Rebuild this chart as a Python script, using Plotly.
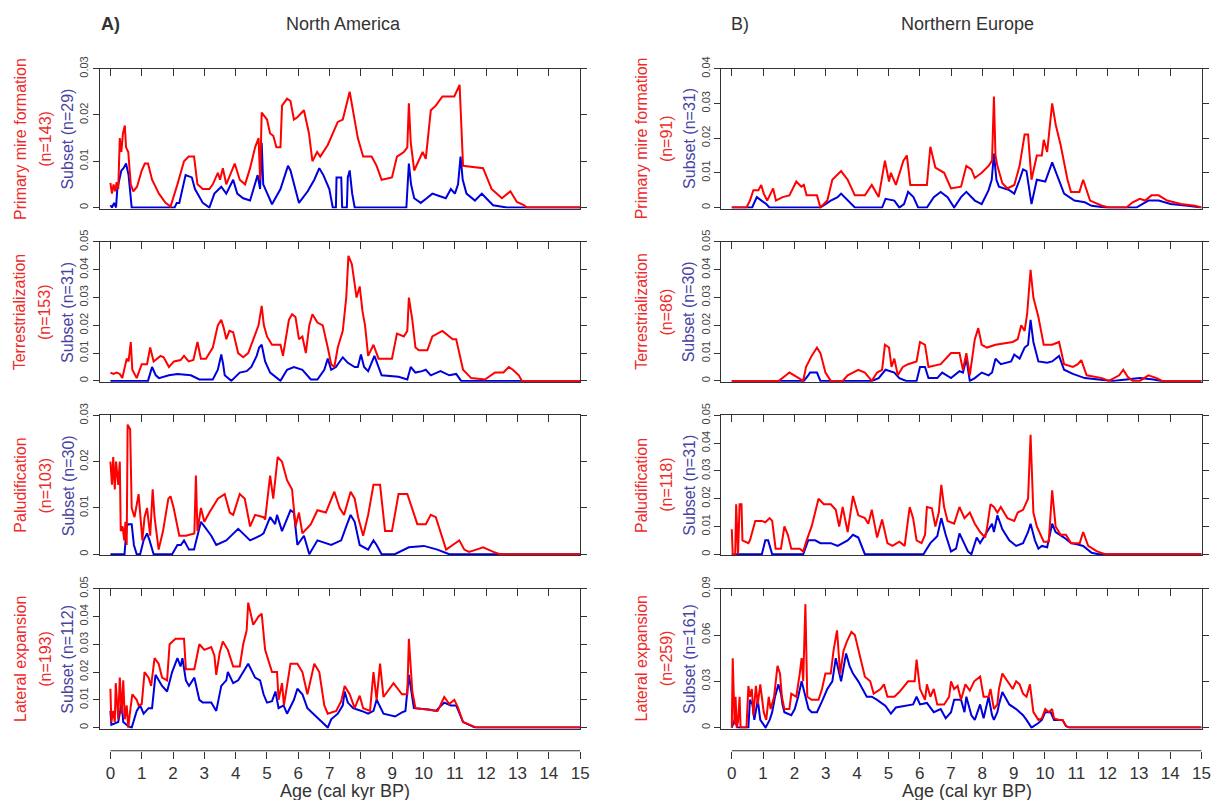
import plotly.graph_objects as go

# ---------------- data (age in cal kyr BP, probability density) ----------------
na_pmf_all = [(0,0.0053),(0.05,0.003),(0.1,0.005),(0.15,0.0035),(0.2,0.0055),(0.25,0.004),(0.3,0.015),(0.35,0.012),(0.4,0.016),(0.46,0.0177),(0.5,0.013),(0.57,0.012),(0.65,0.005),(0.73,0.0035),(0.85,0.0045),(1.0,0.008),(1.1,0.0095),(1.2,0.0095),(1.33,0.006),(1.55,0.003),(1.76,0.001),(1.92,0.0002),(2.14,0.005),(2.35,0.01),(2.5,0.011),(2.67,0.011),(2.78,0.005),(2.95,0.004),(3.16,0.004),(3.27,0.005),(3.43,0.0075),(3.5,0.006),(3.59,0.0085),(3.7,0.005),(3.97,0.0095),(4.13,0.006),(4.3,0.005),(4.46,0.0085),(4.62,0.013),(4.73,0.015),(4.78,0.006),(4.83,0.0205),(5.0,0.019),(5.1,0.016),(5.2,0.0155),(5.3,0.013),(5.43,0.013),(5.48,0.022),(5.64,0.0235),(5.75,0.023),(5.86,0.019),(5.97,0.0195),(6.18,0.021),(6.34,0.016),(6.45,0.01),(6.6,0.012),(6.7,0.011),(6.94,0.0135),(7.26,0.0185),(7.42,0.019),(7.64,0.025),(7.8,0.019),(7.9,0.015),(8.07,0.011),(8.34,0.011),(8.5,0.009),(8.66,0.006),(8.99,0.0065),(9.15,0.011),(9.37,0.012),(9.48,0.013),(9.53,0.0225),(9.59,0.014),(9.7,0.008),(9.97,0.012),(10.07,0.0105),(10.23,0.021),(10.39,0.022),(10.6,0.024),(10.98,0.024),(11.15,0.0265),(11.26,0.009),(11.9,0.0085),(12.17,0.004),(12.5,0.002),(12.77,0.0035),(12.98,0.0012),(13.2,0.0005),(13.3,0),(15,0)]
na_pmf_sub = [(0,0.0005),(0.05,0),(0.12,0.001),(0.18,0),(0.22,0.004),(0.28,0.006),(0.35,0.008),(0.42,0.0085),(0.5,0.0095),(0.58,0.007),(0.62,0.004),(0.68,0),(2.05,0),(2.12,0.001),(2.2,0.001),(2.4,0.007),(2.6,0.0065),(2.7,0.004),(2.95,0.001),(3.16,0),(3.32,0.003),(3.54,0.0045),(3.7,0.003),(3.92,0.006),(4.05,0.003),(4.24,0.002),(4.46,0.0015),(4.62,0.005),(4.7,0.007),(4.78,0.004),(4.83,0.014),(4.88,0.005),(4.94,0.004),(5.16,0.0007),(5.43,0.004),(5.55,0.0065),(5.67,0.009),(5.75,0.008),(5.86,0.005),(6.02,0.001),(6.3,0.0035),(6.51,0.006),(6.67,0.0085),(6.8,0.007),(6.99,0.004),(7.1,0),(7.2,0),(7.22,0.0065),(7.37,0.0065),(7.4,0),(7.55,0),(7.58,0.0065),(7.64,0.008),(7.72,0.003),(7.8,0),(9.45,0),(9.53,0.0095),(9.6,0.005),(9.7,0.002),(9.91,0.001),(10.1,0.002),(10.28,0.003),(10.5,0.0025),(10.71,0.002),(10.87,0.004),(11.0,0.003),(11.1,0.005),(11.18,0.011),(11.25,0.006),(11.37,0.003),(11.64,0.0015),(11.86,0.003),(12.0,0.002),(12.22,0.0005),(12.66,0),(15,0)]

na_ter_all = [(0,0.003),(0.1,0.0025),(0.2,0.003),(0.3,0.0025),(0.38,0.001),(0.45,0.004),(0.52,0.008),(0.58,0.007),(0.65,0.014),(0.7,0.004),(0.84,0.001),(1.0,0.006),(1.17,0.006),(1.27,0.012),(1.38,0.007),(1.6,0.009),(1.7,0.0085),(1.87,0.005),(2.03,0.007),(2.24,0.0075),(2.35,0.009),(2.5,0.007),(2.65,0.0075),(2.78,0.014),(2.89,0.008),(3.05,0.008),(3.27,0.012),(3.43,0.02),(3.54,0.022),(3.62,0.019),(3.7,0.015),(3.8,0.018),(3.92,0.0175),(4.08,0.01),(4.24,0.0085),(4.4,0.01),(4.56,0.015),(4.73,0.02),(4.83,0.027),(4.9,0.02),(5.0,0.016),(5.16,0.013),(5.43,0.013),(5.51,0.009),(5.7,0.022),(5.8,0.024),(5.91,0.023),(6.02,0.015),(6.13,0.016),(6.24,0.01),(6.35,0.02),(6.45,0.024),(6.61,0.021),(6.78,0.02),(6.94,0.012),(7.05,0.006),(7.15,0.005),(7.26,0.012),(7.42,0.018),(7.53,0.03),(7.6,0.045),(7.71,0.042),(7.86,0.03),(7.96,0.034),(8.05,0.025),(8.13,0.02),(8.23,0.009),(8.4,0.013),(8.56,0.008),(8.99,0.008),(9.15,0.017),(9.37,0.016),(9.48,0.018),(9.53,0.03),(9.64,0.022),(9.74,0.012),(9.85,0.011),(10.12,0.011),(10.28,0.016),(10.6,0.018),(10.93,0.015),(11.04,0.015),(11.26,0.004),(11.52,0.001),(11.96,0.0005),(12.28,0.003),(12.55,0.003),(12.72,0.005),(12.85,0.004),(13.04,0.002),(13.14,0),(15,0)]
na_ter_sub = [(0,0),(1.2,0),(1.33,0.005),(1.45,0.002),(1.55,0.001),(1.87,0.002),(2.14,0.0025),(2.57,0.002),(2.84,0.0005),(3.27,0.0005),(3.43,0.004),(3.54,0.0095),(3.6,0.006),(3.65,0.002),(3.86,0),(4.13,0.003),(4.35,0.0035),(4.5,0.005),(4.67,0.009),(4.75,0.012),(4.83,0.013),(4.94,0.007),(5.1,0.003),(5.32,0.001),(5.43,0),(5.64,0.004),(5.86,0.005),(6.13,0.004),(6.4,0.0005),(6.61,0.0005),(6.83,0.004),(6.94,0.008),(7.05,0.004),(7.2,0.005),(7.42,0.0085),(7.58,0.0065),(7.8,0.005),(7.9,0.005),(8.0,0.0095),(8.1,0.005),(8.23,0.0035),(8.43,0.009),(8.56,0.005),(8.66,0.002),(9.2,0.0015),(9.48,0.0005),(9.59,0.005),(9.74,0.003),(9.95,0.0035),(10.07,0.004),(10.23,0.002),(10.54,0.0035),(10.82,0.002),(11.04,0.0025),(11.2,0),(15,0)]

na_pal_all = [(0,0.02),(0.05,0.015),(0.09,0.021),(0.14,0.014),(0.18,0.02),(0.25,0.015),(0.3,0.02),(0.33,0.005),(0.39,0.006),(0.44,0.003),(0.48,0.007),(0.52,0.002),(0.55,0.028),(0.63,0.027),(0.68,0.01),(0.77,0.008),(0.9,0.013),(1.02,0.003),(1.09,0.008),(1.17,0.01),(1.27,0.004),(1.35,0.014),(1.41,0.008),(1.54,0.001),(1.68,0.005),(1.85,0.012),(1.92,0.0125),(2.02,0.01),(2.14,0.006),(2.2,0.004),(2.41,0.004),(2.68,0.0045),(2.73,0.017),(2.78,0.005),(2.89,0.01),(3.0,0.007),(3.16,0.009),(3.43,0.012),(3.65,0.013),(3.81,0.009),(3.92,0.0085),(4.13,0.013),(4.29,0.012),(4.46,0.006),(4.62,0.0085),(4.89,0.008),(4.94,0.0075),(5.1,0.017),(5.2,0.012),(5.34,0.021),(5.48,0.02),(5.64,0.016),(5.8,0.014),(5.91,0.006),(6.02,0.009),(6.13,0.0045),(6.4,0.0065),(6.61,0.0095),(6.88,0.009),(7.15,0.0135),(7.32,0.01),(7.46,0.0085),(7.67,0.0135),(7.8,0.012),(7.91,0.008),(8.07,0.004),(8.23,0.0085),(8.4,0.015),(8.61,0.015),(8.77,0.005),(8.99,0.005),(9.2,0.013),(9.48,0.013),(9.64,0.0095),(9.8,0.0065),(10.07,0.0065),(10.23,0.0085),(10.39,0.008),(10.72,0.001),(10.93,0.002),(11.14,0.003),(11.3,0.001),(11.45,0.0005),(11.68,0.001),(11.9,0.0015),(12.23,0.0005),(12.44,0),(15,0)]
na_pal_sub = [(0,0),(0.45,0),(0.52,0.006),(0.57,0.0065),(0.68,0.0065),(0.75,0.002),(0.84,0),(0.95,0),(1.06,0.003),(1.17,0.0045),(1.25,0.003),(1.38,0),(1.97,0),(2.14,0.002),(2.25,0.002),(2.35,0.003),(2.51,0.001),(2.67,0.001),(2.78,0.004),(2.89,0.007),(3.0,0.006),(3.22,0.004),(3.38,0.002),(3.7,0.003),(4.08,0.0055),(4.29,0.004),(4.46,0.003),(4.78,0.004),(4.89,0.0045),(5.1,0.008),(5.26,0.0065),(5.32,0.0085),(5.48,0.005),(5.75,0.0095),(5.86,0.009),(5.97,0.002),(6.08,0.003),(6.18,0.004),(6.35,0),(6.61,0.003),(7.05,0.002),(7.37,0.003),(7.53,0.006),(7.67,0.0085),(7.8,0.007),(7.96,0.002),(8.23,0.001),(8.4,0.003),(8.5,0.002),(8.66,0),(9.08,0),(9.53,0.0015),(10.01,0.0018),(10.44,0.001),(10.82,0),(15,0)]

na_lat_all = [(0,0.014),(0.03,0.002),(0.09,0.006),(0.14,0.002),(0.17,0.016),(0.25,0.003),(0.3,0.018),(0.36,0.005),(0.41,0.017),(0.46,0.003),(0.52,0.008),(0.57,0),(0.62,0.005),(0.7,0.012),(0.84,0.01),(0.9,0.008),(1.0,0.0085),(1.09,0.02),(1.22,0.018),(1.3,0.015),(1.41,0.025),(1.54,0.023),(1.65,0.018),(1.81,0.017),(1.89,0.03),(2.08,0.032),(2.35,0.032),(2.41,0.021),(2.68,0.021),(2.84,0.03),(3.0,0.028),(3.22,0.029),(3.32,0.026),(3.38,0.019),(3.49,0.027),(3.59,0.031),(3.75,0.028),(3.92,0.022),(4.13,0.022),(4.24,0.03),(4.35,0.035),(4.4,0.045),(4.56,0.037),(4.73,0.04),(4.83,0.041),(4.94,0.028),(5.16,0.02),(5.32,0.02),(5.37,0.01),(5.48,0.016),(5.54,0.008),(5.62,0.014),(5.75,0.023),(5.97,0.023),(6.13,0.02),(6.29,0.012),(6.51,0.023),(6.67,0.02),(6.83,0.008),(6.94,0.005),(7.21,0.006),(7.37,0.0095),(7.48,0.015),(7.64,0.012),(7.8,0.007),(7.96,0.0115),(8.07,0.007),(8.29,0.006),(8.4,0.02),(8.5,0.01),(8.61,0.023),(8.72,0.011),(8.93,0.014),(9.04,0.016),(9.31,0.012),(9.48,0.012),(9.53,0.032),(9.64,0.013),(9.74,0.007),(10.18,0.0065),(10.45,0.006),(10.66,0.011),(10.82,0.0085),(10.98,0.01),(11.09,0.0075),(11.26,0.002),(11.58,0.0005),(11.69,0),(15,0)]
na_lat_sub = [(0,0.006),(0.03,0.001),(0.25,0.002),(0.36,0.009),(0.41,0.002),(0.57,0.0005),(0.68,0),(0.84,0.006),(0.95,0.008),(1.06,0.005),(1.22,0.007),(1.33,0.007),(1.44,0.019),(1.65,0.015),(1.81,0.013),(1.97,0.02),(2.14,0.025),(2.24,0.022),(2.3,0.025),(2.41,0.017),(2.51,0.015),(2.68,0.018),(2.84,0.01),(2.95,0.009),(3.22,0.009),(3.38,0.006),(3.54,0.015),(3.7,0.017),(3.75,0.02),(3.92,0.016),(4.08,0.017),(4.35,0.022),(4.4,0.023),(4.62,0.018),(4.78,0.017),(4.89,0.012),(5.0,0.009),(5.16,0.0095),(5.27,0.013),(5.37,0.007),(5.53,0.008),(5.64,0.005),(5.86,0.01),(5.97,0.014),(6.13,0.012),(6.29,0.007),(6.56,0.004),(6.83,0.001),(6.94,0),(7.05,0.003),(7.26,0.005),(7.42,0.008),(7.48,0.013),(7.58,0.009),(7.75,0.007),(8.02,0.006),(8.23,0.005),(8.4,0.006),(8.5,0.01),(8.72,0.005),(9.09,0.004),(9.31,0.0055),(9.42,0.006),(9.53,0.019),(9.69,0.007),(10.18,0.0065),(10.39,0.006),(10.66,0.009),(10.87,0.008),(11.04,0.008),(11.26,0.002),(11.64,0),(15,0)]

ne_pmf_all = [(0,0),(0.47,0),(0.58,0.002),(0.69,0.005),(0.85,0.005),(0.94,0.0065),(1.02,0.004),(1.13,0.002),(1.32,0.0055),(1.41,0.002),(1.62,0.003),(1.84,0.0035),(2.06,0.0075),(2.22,0.006),(2.3,0.0065),(2.39,0.0035),(2.72,0.0035),(2.83,0),(3.05,0.002),(3.21,0.008),(3.49,0.0105),(3.7,0.008),(3.93,0.0035),(4.25,0.0035),(4.47,0.0065),(4.69,0.003),(4.89,0.0135),(5.02,0.0075),(5.08,0.01),(5.24,0.0065),(5.48,0.0135),(5.59,0.015),(5.7,0.0065),(6.23,0.0065),(6.34,0.0175),(6.5,0.0115),(6.78,0.01),(7.0,0.0055),(7.32,0.006),(7.49,0.012),(7.65,0.011),(7.76,0.0085),(7.98,0.01),(8.2,0.012),(8.31,0.0135),(8.37,0.032),(8.42,0.015),(8.48,0.012),(8.64,0.007),(8.8,0.0055),(9.02,0.0065),(9.19,0.012),(9.35,0.021),(9.46,0.021),(9.57,0.008),(9.74,0.015),(9.9,0.015),(9.96,0.0195),(10.07,0.016),(10.18,0.025),(10.23,0.03),(10.34,0.024),(10.5,0.018),(10.72,0.008),(10.83,0.0045),(11.1,0.0045),(11.22,0.008),(11.44,0.002),(11.82,0.0005),(12.04,0),(12.6,0),(12.8,0.0015),(13.03,0.0025),(13.2,0.002),(13.4,0.0035),(13.63,0.0035),(13.9,0.002),(14.34,0.001),(14.78,0.0005),(15,0)]
ne_pmf_sub = [(0,0),(0.65,0),(0.8,0.003),(1.1,0.001),(1.2,0),(2.83,0),(3.16,0.002),(3.38,0.003),(3.49,0.004),(3.7,0.002),(3.93,0),(4.8,0),(4.91,0.0025),(5.19,0.002),(5.35,0),(5.5,0.001),(5.63,0.0045),(5.8,0.003),(5.95,0),(6.23,0),(6.45,0.003),(6.67,0.0045),(6.89,0.003),(7.1,0),(7.32,0.003),(7.49,0.0045),(7.76,0.002),(7.98,0.001),(8.2,0.005),(8.3,0.008),(8.37,0.0155),(8.45,0.008),(8.53,0.006),(8.86,0.005),(9.02,0.004),(9.19,0.008),(9.3,0.011),(9.41,0.0105),(9.57,0.001),(9.74,0.008),(10.01,0.0075),(10.23,0.013),(10.39,0.009),(10.61,0.004),(10.94,0.002),(11.27,0.0015),(11.49,0.0005),(11.93,0),(12.92,0),(13.3,0.002),(13.63,0.002),(14.01,0.001),(14.56,0.0005),(15,0)]

ne_ter_all = [(0,0),(1.5,0),(1.73,0.002),(1.84,0.003),(2.06,0.0015),(2.28,0),(2.37,0.005),(2.55,0.009),(2.72,0.012),(2.83,0.01),(2.99,0.003),(3.16,0),(3.54,0),(3.7,0.002),(4.04,0.004),(4.25,0.003),(4.47,0),(4.64,0.003),(4.8,0.004),(4.89,0.013),(5.02,0.012),(5.1,0.005),(5.19,0.008),(5.3,0.002),(5.46,0.005),(5.63,0.006),(5.9,0.007),(6.01,0.014),(6.17,0.013),(6.28,0.005),(6.67,0.006),(7.0,0.01),(7.27,0.01),(7.38,0.004),(7.49,0.01),(7.6,0.002),(7.76,0.015),(7.87,0.019),(7.98,0.013),(8.15,0.012),(8.42,0.013),(8.97,0.014),(9.13,0.015),(9.24,0.02),(9.35,0.018),(9.43,0.024),(9.54,0.04),(9.63,0.03),(9.79,0.023),(9.96,0.013),(10.23,0.013),(10.45,0.014),(10.61,0.006),(10.89,0.005),(11.05,0.006),(11.16,0.0075),(11.33,0.002),(11.82,0.001),(12.04,0),(12.2,0.001),(12.37,0.002),(12.5,0.004),(12.64,0.0015),(12.8,0),(13.03,0),(13.3,0.002),(13.57,0.001),(13.74,0),(15,0)]
ne_ter_sub = [(0,0),(2.3,0),(2.44,0.002),(2.5,0.003),(2.72,0.003),(2.83,0),(4.47,0),(4.69,0.001),(4.91,0.004),(5.19,0.003),(5.35,0.001),(5.57,0),(5.9,0),(6.01,0.005),(6.17,0.005),(6.28,0.001),(6.56,0.001),(6.72,0.003),(7.0,0.001),(7.27,0.0035),(7.38,0.003),(7.49,0.008),(7.6,0),(7.76,0.001),(7.98,0.003),(8.2,0.002),(8.31,0.003),(8.42,0.008),(8.59,0.006),(8.92,0.007),(9.02,0.0095),(9.19,0.008),(9.35,0.012),(9.46,0.013),(9.54,0.022),(9.63,0.014),(9.79,0.007),(10.07,0.0065),(10.23,0.007),(10.45,0.009),(10.61,0.004),(10.89,0.0025),(11.27,0.001),(11.71,0.0005),(12.15,0),(12.6,0.0005),(13.03,0.001),(13.47,0.0005),(13.69,0),(15,0)]

ne_pal_all = [(0,0.009),(0.03,0),(0.11,0),(0.14,0.018),(0.2,0),(0.25,0.018),(0.31,0.018),(0.34,0.005),(0.53,0.004),(0.58,0.005),(0.75,0.012),(0.96,0.012),(1.07,0.0115),(1.21,0.013),(1.29,0.012),(1.4,0.002),(1.57,0.002),(1.68,0.01),(1.79,0.007),(1.9,0.002),(2.17,0.002),(2.28,0.001),(2.39,0.005),(2.55,0.01),(2.77,0.02),(2.94,0.018),(3.16,0.018),(3.32,0.016),(3.43,0.01),(3.54,0.017),(3.7,0.008),(3.87,0.021),(4.04,0.014),(4.25,0.013),(4.36,0.011),(4.47,0.016),(4.64,0.006),(4.8,0.0125),(4.97,0.004),(5.13,0.003),(5.35,0.0045),(5.52,0.003),(5.68,0.017),(5.79,0.013),(5.9,0.005),(6.06,0.004),(6.17,0.007),(6.23,0.017),(6.39,0.0165),(6.5,0.01),(6.61,0.015),(6.69,0.025),(6.78,0.017),(6.89,0.012),(7.1,0.011),(7.27,0.017),(7.43,0.013),(7.6,0.015),(7.76,0.011),(7.93,0.008),(8.09,0.006),(8.15,0.0095),(8.26,0.018),(8.37,0.017),(8.48,0.015),(8.59,0.017),(8.8,0.013),(9.02,0.012),(9.13,0.015),(9.3,0.016),(9.46,0.02),(9.54,0.043),(9.63,0.015),(9.74,0.01),(9.96,0.0045),(10.12,0.0045),(10.23,0.023),(10.34,0.01),(10.5,0.007),(10.67,0.007),(10.83,0.004),(11.11,0.004),(11.22,0.008),(11.38,0.003),(11.66,0.001),(11.93,0),(15,0)]
ne_pal_sub = [(0,0),(0.96,0),(1.07,0.005),(1.16,0.005),(1.29,0),(2.28,0),(2.44,0.005),(2.66,0.005),(2.83,0.004),(3.16,0.004),(3.38,0.003),(3.7,0.005),(3.87,0.007),(4.04,0.006),(4.25,0),(6.12,0),(6.34,0.004),(6.56,0.0065),(6.69,0.013),(6.83,0.007),(7.0,0.001),(7.16,0.002),(7.27,0.0075),(7.38,0.005),(7.54,0.001),(7.65,0),(7.82,0.006),(7.93,0.004),(8.15,0.008),(8.31,0.011),(8.37,0.008),(8.48,0.014),(8.64,0.009),(8.86,0.005),(9.08,0.003),(9.3,0.004),(9.46,0.008),(9.54,0.011),(9.68,0.005),(9.79,0.002),(9.9,0.003),(10.07,0.0025),(10.23,0.011),(10.34,0.008),(10.61,0.006),(10.83,0.004),(11.05,0.0035),(11.22,0.003),(11.49,0.0005),(11.71,0),(15,0)]

ne_lat_all = [(0,0),(0.03,0.045),(0.09,0.002),(0.12,0.02),(0.16,0),(0.2,0.004),(0.25,0.02),(0.28,0),(0.47,0),(0.53,0.027),(0.58,0.02),(0.64,0.025),(0.69,0.008),(0.77,0.027),(0.83,0.015),(0.91,0.028),(1.02,0.01),(1.1,0.005),(1.18,0.02),(1.24,0.012),(1.35,0.02),(1.46,0.04),(1.54,0.035),(1.6,0.02),(1.68,0.012),(1.84,0.012),(1.9,0.022),(2.06,0.02),(2.17,0.035),(2.23,0.045),(2.28,0.03),(2.35,0.08),(2.41,0.02),(2.55,0.018),(2.77,0.018),(2.88,0.025),(2.99,0.035),(3.16,0.035),(3.25,0.05),(3.36,0.063),(3.46,0.035),(3.57,0.05),(3.68,0.056),(3.82,0.062),(3.93,0.06),(4.04,0.05),(4.25,0.033),(4.42,0.03),(4.53,0.022),(4.75,0.025),(4.86,0.028),(4.97,0.02),(5.19,0.02),(5.35,0.023),(5.63,0.03),(5.84,0.03),(5.9,0.044),(6.01,0.025),(6.17,0.018),(6.23,0.028),(6.34,0.02),(6.45,0.025),(6.56,0.015),(6.78,0.015),(6.94,0.02),(7.0,0.03),(7.1,0.025),(7.21,0.027),(7.32,0.018),(7.46,0.028),(7.6,0.024),(7.74,0.03),(7.93,0.033),(8.04,0.02),(8.2,0.02),(8.26,0.025),(8.37,0.012),(8.48,0.015),(8.53,0.025),(8.64,0.035),(8.8,0.03),(8.97,0.025),(9.08,0.03),(9.19,0.028),(9.3,0.022),(9.41,0.02),(9.52,0.028),(9.63,0.01),(9.79,0.005),(9.9,0.006),(10.01,0.012),(10.12,0.01),(10.23,0.012),(10.29,0.006),(10.45,0.005),(10.56,0.005),(10.67,0.001),(10.78,0),(15,0)]
ne_lat_sub = [(0,0),(0.09,0.005),(0.18,0),(0.53,0),(0.58,0.018),(0.66,0.015),(0.72,0.005),(0.83,0.018),(0.91,0.005),(1.02,0.002),(1.08,0),(1.21,0.005),(1.29,0.01),(1.38,0.02),(1.49,0.028),(1.57,0.022),(1.62,0.015),(1.68,0.01),(1.9,0.008),(2.01,0.012),(2.12,0.02),(2.23,0.03),(2.34,0.02),(2.45,0.012),(2.55,0.01),(2.72,0.01),(2.88,0.017),(3.05,0.025),(3.21,0.03),(3.32,0.045),(3.49,0.03),(3.65,0.048),(3.76,0.04),(3.87,0.035),(4.04,0.03),(4.31,0.02),(4.47,0.02),(4.64,0.018),(4.91,0.014),(5.08,0.009),(5.24,0.013),(5.57,0.014),(5.79,0.015),(5.9,0.02),(6.01,0.015),(6.23,0.016),(6.45,0.01),(6.67,0.012),(6.83,0.006),(7.0,0.01),(7.1,0.018),(7.32,0.018),(7.43,0.01),(7.49,0.02),(7.65,0.008),(7.76,0.005),(7.93,0.015),(8.04,0.006),(8.2,0.02),(8.31,0.008),(8.37,0.005),(8.48,0.01),(8.53,0.015),(8.64,0.023),(8.86,0.015),(9.08,0.012),(9.3,0.008),(9.41,0.005),(9.57,0),(9.79,0.003),(9.9,0.005),(10.01,0.01),(10.18,0.01),(10.29,0.005),(10.45,0.005),(10.56,0.005),(10.67,0.001),(10.78,0),(15,0)]

# panel labels: (process, n all, subset label)
left_labels = [("Primary mire formation", "(n=143)", "Subset (n=29)"),
               ("Terrestrialization", "(n=153)", "Subset (n=31)"),
               ("Paludification", "(n=103)", "Subset (n=30)"),
               ("Lateral expansion", "(n=193)", "Subset (n=112)")]
right_labels = [("Primary mire formation", "(n=91)", "Subset (n=31)"),
                ("Terrestrialization", "(n=86)", "Subset (n=30)"),
                ("Paludification", "(n=118)", "Subset (n=31)"),
                ("Lateral expansion", "(n=259)", "Subset (n=161)")]
left_series = [(na_pmf_all, na_pmf_sub), (na_ter_all, na_ter_sub), (na_pal_all, na_pal_sub), (na_lat_all, na_lat_sub)]
right_series = [(ne_pmf_all, ne_pmf_sub), (ne_ter_all, ne_ter_sub), (ne_pal_all, ne_pal_sub), (ne_lat_all, ne_lat_sub)]
left_ymax = [0.03, 0.05, 0.03, 0.05]
right_ymax = [0.04, 0.05, 0.05, 0.09]
left_dtick = [0.01, 0.01, 0.01, 0.01]
right_dtick = [0.01, 0.01, 0.01, 0.03]
x_ticks = list(range(0, 16))

# ---------------- layout geometry (pixels) ----------------
W, H = 1219, 800
def px(v): return v / W
def py(v): return 1 - v / H

col_px = [(100.5, 584.5), (726.5, 1210.5)]
row_px = [(57.5, 199.5), (233.5, 375.5), (409.5, 551.5), (585.5, 727.5)]
XR = [-0.34, 15]
FONT = "Liberation Sans, Arial, sans-serif"
RED = "#FF0000"
BLUE = "#0000DD"
RED_TXT = "#EE2A2A"
BLUE_TXT = "#4743A3"
AX = "#333333"

fig = go.Figure()
layout = dict(width=W, height=H, margin=dict(l=0, r=0, t=0, b=0), autosize=False,
              paper_bgcolor="white", plot_bgcolor="white", showlegend=False,
              font=dict(family=FONT, color=AX))
annotations = []
shapes = []

def fmt(v):
    if v == 0:
        return "0"
    return ("%.2f" % v).rstrip("0")

for c, (series, labels, ymaxs, dticks) in enumerate([(left_series, left_labels, left_ymax, left_dtick),
                                                      (right_series, right_labels, right_ymax, right_dtick)]):
    x0, x1 = col_px[c]
    for r in range(4):
        idx = r * 2 + c + 1
        xa = "xaxis" if idx == 1 else "xaxis%d" % idx
        ya = "yaxis" if idx == 1 else "yaxis%d" % idx
        xr = "x" if idx == 1 else "x%d" % idx
        yr = "y" if idx == 1 else "y%d" % idx
        top, bot = row_px[r]
        ymax = ymaxs[r]
        allv, subv = series[r]
        fig.add_trace(go.Scatter(x=[p[0] for p in subv], y=[p[1] for p in subv], mode="lines",
                                 line=dict(color=BLUE, width=2), xaxis=xr, yaxis=yr, hoverinfo="skip"))
        fig.add_trace(go.Scatter(x=[p[0] for p in allv], y=[p[1] for p in allv], mode="lines",
                                 line=dict(color=RED, width=2), xaxis=xr, yaxis=yr, hoverinfo="skip"))
        layout[xa] = dict(domain=[px(x0), px(x1)], range=XR, anchor=yr, side="top",
                          tickvals=x_ticks, ticks="inside", ticklen=7, tickcolor=AX,
                          showticklabels=False, showline=True, mirror=True, linecolor=AX,
                          linewidth=1, showgrid=False, zeroline=False, layer="below traces",
                          fixedrange=True)
        nt = int(round(ymax / dticks[r]))
        tv = [round(k * dticks[r], 4) for k in range(nt + 1)]
        layout[ya] = dict(domain=[py(bot), py(top)], range=[-ymax / 140.0, ymax], anchor=xr,
                          tickvals=tv, ticktext=[fmt(v) for v in tv], tickangle=-90,
                          ticks="outside", ticklen=6, tickcolor=AX,
                          tickfont=dict(size=11, color="#444444", family=FONT),
                          showline=True, mirror="ticks", linecolor=AX, linewidth=1,
                          showgrid=False, zeroline=False, layer="below traces", fixedrange=True)
        yc = (top + bot) / 2
        name, nall, sub = labels[r]
        for text, xo, col in [(name, 80, RED_TXT), (nall, 55, RED_TXT), (sub, 32, BLUE_TXT)]:
            annotations.append(dict(text=text, x=px(x0 - xo), y=py(yc), xref="paper", yref="paper",
                                    textangle=-90, showarrow=False, xanchor="center", yanchor="middle",
                                    font=dict(size=16, color=col, family=FONT)))
    # bottom axis for this column
    bidx = 9 + c
    base = 7 + c
    layout["xaxis%d" % bidx] = dict(domain=[px(x0), px(x1)], range=XR, overlaying="x%d" % base,
                                    anchor="free", position=py(750), side="bottom",
                                    tickvals=x_ticks, ticks="outside", ticklen=7, tickcolor=AX,
                                    tickfont=dict(size=17, color=AX, family=FONT),
                                    showline=False, showgrid=False, zeroline=False, fixedrange=True)
    fig.add_trace(go.Scatter(x=[None], y=[None], mode="lines", xaxis="x%d" % bidx, yaxis="y%d" % base,
                             hoverinfo="skip"))
    shapes.append(dict(type="line", xref="x%d" % base, yref="paper", x0=0, x1=15,
                       y0=py(750), y1=py(750), line=dict(color=AX, width=1)))
    zero_px = x0 + (0 - XR[0]) / (XR[1] - XR[0]) * (x1 - x0)
    mid_px = (zero_px + x1) / 2
    annotations.append(dict(text="Age (cal kyr BP)", x=px(mid_px), y=py(791), xref="paper", yref="paper",
                            showarrow=False, xanchor="center", yanchor="middle",
                            font=dict(size=18, color=AX, family=FONT)))

# headers
annotations.append(dict(text="<b>A)</b>", x=px(111), y=py(12), xref="paper", yref="paper", showarrow=False,
                        xanchor="center", yanchor="middle", font=dict(size=18, color=AX, family=FONT)))
annotations.append(dict(text="North America", x=px(346), y=py(12), xref="paper", yref="paper", showarrow=False,
                        xanchor="center", yanchor="middle", font=dict(size=18, color=AX, family=FONT)))
annotations.append(dict(text="B)", x=px(746), y=py(12), xref="paper", yref="paper", showarrow=False,
                        xanchor="center", yanchor="middle", font=dict(size=18, color=AX, family=FONT)))
annotations.append(dict(text="Northern Europe", x=px(975), y=py(12), xref="paper", yref="paper", showarrow=False,
                        xanchor="center", yanchor="middle", font=dict(size=18, color=AX, family=FONT)))

layout["annotations"] = annotations
layout["shapes"] = shapes
fig.update_layout(**layout)
fig.write_html("out.html", config={"responsive": False, "displayModeBar": False},
               post_script="document.body.style.margin='0';document.body.style.padding='0';document.body.style.overflow='hidden';")
